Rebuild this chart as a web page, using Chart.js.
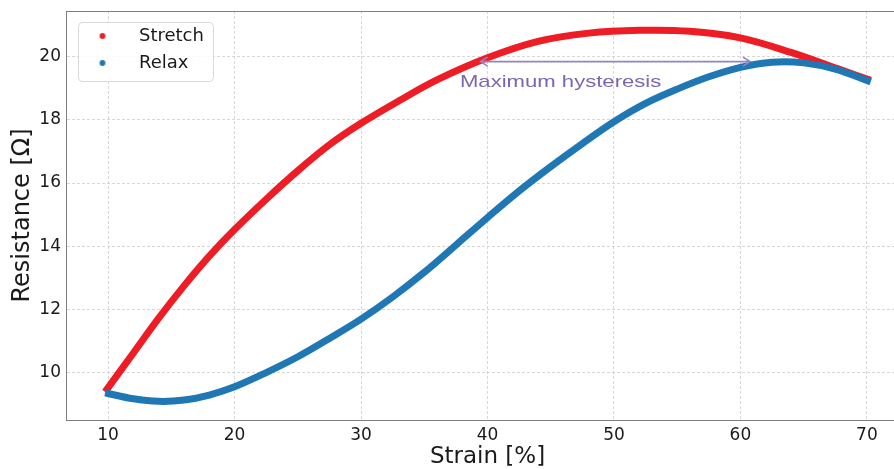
<!DOCTYPE html>
<html>
<head>
<meta charset="utf-8">
<script src="https://cdn.jsdelivr.net/npm/chart.js@4.4.1/dist/chart.umd.min.js"></script>
<style>
html,body{margin:0;padding:0;background:#fff;overflow:hidden;width:894px;height:469px}
canvas{display:block}
</style>
</head>
<body>
<canvas id="c" width="909" height="469"></canvas>
<script>
// ---- data ----
const seriesNames = ['Stretch', 'Relax'];
const seriesColors = ['#ee1d25', '#1f77b4'];

const stretchStrain     = [9.76, 12, 14, 16, 18, 20, 22.5, 25, 27.5, 30, 33, 36, 40, 44, 48, 52, 56, 60, 64, 68, 70.3];
const stretchResistance = [9.40, 10.63, 11.73, 12.75, 13.69, 14.53, 15.49, 16.39, 17.21, 17.89, 18.60, 19.26, 19.96, 20.48, 20.74, 20.83, 20.80, 20.59, 20.13, 19.57, 19.25];

const relaxStrain     = [9.76, 12, 14, 16, 18, 20, 22.5, 25, 27.5, 30, 32.5, 35, 37.5, 40, 42.5, 45, 47.5, 50, 52.5, 55, 57.5, 60, 62.5, 65, 67.5, 70.3];
const relaxResistance = [9.37, 9.18, 9.10, 9.14, 9.30, 9.56, 10.01, 10.51, 11.09, 11.70, 12.40, 13.18, 14.04, 14.91, 15.75, 16.52, 17.25, 17.94, 18.52, 18.97, 19.36, 19.66, 19.82, 19.80, 19.60, 19.20];

const xTicks = [10, 20, 30, 40, 50, 60, 70];
const yTicks = [10, 12, 14, 16, 18, 20];
const xRange = [6.67, 73.33];
const yRange = [8.51, 21.44];

const xTitle = 'Strain [%]';
const yTitle = 'Resistance [Ω]';

const arrowStrain = [39.45, 60.76];
const arrowResistance = [19.84, 19.84];
const noteText = 'Maximum hysteresis';
const notePos = [37.82, 19.17];

// ---- helpers ----
function dotImage(color) {
  const c = document.createElement('canvas');
  c.width = 8; c.height = 8;
  const g = c.getContext('2d');
  g.fillStyle = color;
  g.beginPath(); g.arc(4, 4, 2.9, 0, Math.PI * 2); g.fill();
  return c;
}
const dotImages = seriesColors.map(dotImage);

function pairs(xs, ys) { return xs.map((v, i) => ({x: v, y: ys[i]})); }

const legendFrame = {
  id: 'legendFrame',
  afterLayout(chart) {
    const lg = chart.legend;
    if (!lg || lg._framed) return;
    lg._framed = true;
    const orig = lg.draw;
    lg.draw = function (...args) {
      const hb = this.legendHitBoxes;
      if (hb && hb.length) {
        const ctx = this.ctx;
        const x0 = hb[0].left + 3, y0 = hb[0].top - 5;
        const x1 = Math.max(...hb.map(h => h.left + h.width)) + 9;
        const last = hb[hb.length - 1];
        const y1 = last.top + last.height + 9;
        ctx.save();
        ctx.beginPath();
        ctx.roundRect(x0 + 0.5, y0 + 0.5, x1 - x0, y1 - y0, 4);
        ctx.fillStyle = 'rgba(255,255,255,0.85)';
        ctx.fill();
        ctx.strokeStyle = '#d9d9d9';
        ctx.lineWidth = 1;
        ctx.stroke();
        ctx.restore();
      }
      return orig.apply(this, args);
    };
  }
};

const topSpine = {
  id: 'topSpine',
  afterDraw(chart) {
    const {ctx, chartArea} = chart;
    ctx.save();
    ctx.strokeStyle = '#808080';
    ctx.lineWidth = 1;
    ctx.beginPath();
    ctx.moveTo(chartArea.left, Math.round(chartArea.top) + 0.5);
    ctx.lineTo(chartArea.right, Math.round(chartArea.top) + 0.5);
    ctx.stroke();
    ctx.restore();
  }
};

const hysteresisNote = {
  id: 'hysteresisNote',
  afterDatasetsDraw(chart) {
    const {ctx, scales: {x, y}} = chart;
    const xa = x.getPixelForValue(arrowStrain[0]), xb = x.getPixelForValue(arrowStrain[1]);
    const ya = y.getPixelForValue(arrowResistance[0]), yb = y.getPixelForValue(arrowResistance[1]);
    ctx.save();
    ctx.strokeStyle = '#9383c6';
    ctx.lineWidth = 1.6;
    ctx.beginPath();
    ctx.moveTo(xa, ya); ctx.lineTo(xb, yb);
    ctx.moveTo(xa + 7, ya - 4.5); ctx.lineTo(xa, ya); ctx.lineTo(xa + 7, ya + 4.5);
    ctx.moveTo(xb - 7, yb - 4.5); ctx.lineTo(xb, yb); ctx.lineTo(xb - 7, yb + 4.5);
    ctx.stroke();
    const tx = x.getPixelForValue(notePos[0]), ty = y.getPixelForValue(notePos[1]);
    ctx.translate(tx, ty);
    ctx.scale(1.3, 1);
    ctx.font = '17px "Liberation Sans", Arial, sans-serif';
    ctx.fillStyle = '#7b67b0';
    ctx.textAlign = 'left';
    ctx.textBaseline = 'middle';
    ctx.fillText(noteText, 0, 0);
    ctx.restore();
  }
};

Chart.defaults.font.family = '"DejaVu Sans", sans-serif';
Chart.defaults.color = '#1a1a1a';

new Chart(document.getElementById('c'), {
  type: 'scatter',
  data: {
    datasets: [
      {
        label: seriesNames[0],
        data: pairs(stretchStrain, stretchResistance),
        borderColor: seriesColors[0],
        backgroundColor: seriesColors[0],
        showLine: true, pointRadius: 0, borderWidth: 7,
        tension: 0.35, order: 1
      },
      {
        label: seriesNames[1],
        data: pairs(relaxStrain, relaxResistance),
        borderColor: seriesColors[1],
        backgroundColor: seriesColors[1],
        showLine: true, pointRadius: 0, borderWidth: 7,
        tension: 0.35, order: 0
      }
    ]
  },
  options: {
    responsive: false,
    animation: false,
    devicePixelRatio: 1,
    layout: {padding: {left: 0, top: 11, right: 0, bottom: 0}},
    scales: {
      x: {
        type: 'linear',
        min: xRange[0], max: xRange[1],
        afterBuildTicks: s => { s.ticks = xTicks.map(v => ({value: v})); },
        afterFit: s => { s.height = 49; s.paddingLeft = 0; s.paddingRight = 0; },
        ticks: {font: {size: 17}, padding: 5, color: '#1a1a1a'},
        grid: {color: '#cdcdcd', lineWidth: 0.8, drawTicks: false},
        border: {display: true, color: '#808080', width: 1, dash: [3, 2]},
        title: {display: true, text: xTitle, font: {size: 23, lineHeight: 1}, color: '#1a1a1a', padding: {top: 0, bottom: 0}}
      },
      y: {
        type: 'linear',
        min: yRange[0], max: yRange[1],
        afterBuildTicks: s => { s.ticks = yTicks.map(v => ({value: v})); },
        afterFit: s => { s.width = 66; s.paddingTop = 0; s.paddingBottom = 0; },
        ticks: {font: {size: 17}, padding: 5, color: '#1a1a1a'},
        grid: {color: '#cdcdcd', lineWidth: 0.8, drawTicks: false},
        border: {display: true, color: '#808080', width: 1, dash: [3, 2]},
        title: {display: true, text: yTitle, font: {size: 24}, color: '#1a1a1a', padding: {top: 8, bottom: 0}}
      }
    },
    plugins: {
      tooltip: {enabled: false},
      legend: {
        position: 'chartArea',
        align: 'start',
        title: {display: true, text: ' ', font: {size: 1, lineHeight: 1}, padding: {top: 17, bottom: 0}},
        labels: {
          usePointStyle: true,
          pointStyleWidth: 55,
          padding: 9,
          font: {size: 18},
          color: '#1a1a1a',
          generateLabels: chart => chart.data.datasets.map((ds, i) => ({
            text: ds.label,
            fillStyle: ds.borderColor,
            strokeStyle: ds.borderColor,
            lineWidth: 0,
            pointStyle: dotImages[i],
            hidden: false,
            datasetIndex: i,
            fontColor: '#1a1a1a'
          }))
        }
      }
    }
  },
  plugins: [legendFrame, topSpine, hysteresisNote]
});
</script>
</body>
</html>
